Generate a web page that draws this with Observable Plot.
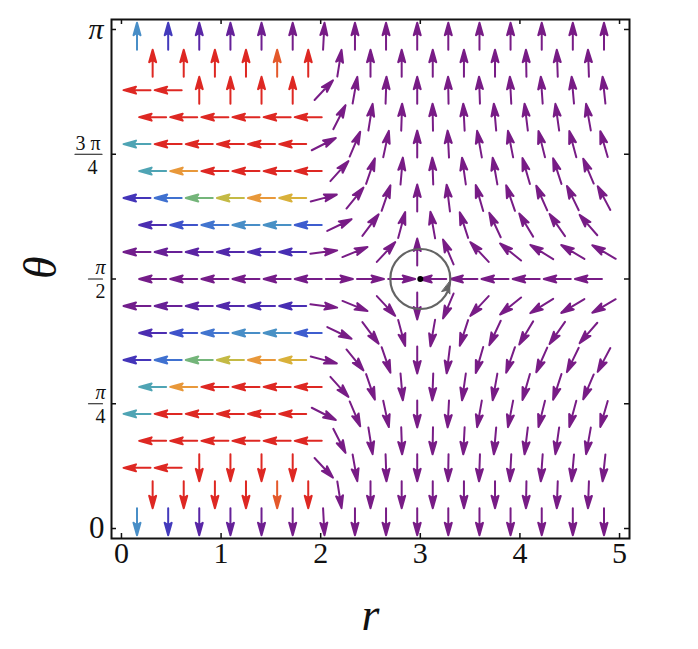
<!DOCTYPE html>
<html>
<head>
<meta charset="utf-8">
<script src="https://cdn.jsdelivr.net/npm/d3@7"></script>
<script src="https://cdn.jsdelivr.net/npm/@observablehq/plot@0.6"></script>
<style>
  html, body { margin: 0; padding: 0; background: #fff; }
  #chart { width: 698px; height: 649px; overflow: hidden; }
</style>
</head>
<body>
<div id="chart"></div>
<script>
// ---------- data ----------
// theta position of each row of arrows (top row first)
const thetaRows = [3.0992, 2.9294, 2.7596, 2.5897, 2.4199, 2.2501, 2.0803, 1.9104, 1.7406, 1.5708,
                   1.4010, 1.2312, 1.0613, 0.8915, 0.7217, 0.5519, 0.3820, 0.2122, 0.0424];
// r positions: even rows (16 arrows) and odd rows (15 arrows) are staggered
const rEven = [0.156, 0.469, 0.781, 1.094, 1.406, 1.719, 2.031, 2.344, 2.656, 2.969, 3.281, 3.594, 3.906, 4.219, 4.531, 4.844];
const rOdd  = [0.313, 0.625, 0.938, 1.250, 1.563, 1.875, 2.188, 2.500, 2.813, 3.125, 3.438, 3.750, 4.063, 4.375, 4.688];

// direction of each arrow (degrees on screen, 0 = right, 90 = up)
const angleRows = [
  [90, 90, 90, 90, 90, 90, 87, 90, 90, 90, 90, 90, 90, 90, 90, 90],
  [90, 90, 90, 90, 90, 90, 81, 90, 90, 90, 90, 90, 91, 92, 92],
  [180, 180, 90, 90, 90, 90, 47, 80, 88, 90, 91, 92, 93, 94, 95, 96],
  [180, 180, 180, 180, 180, 180, 63, 81, 88, 91, 93, 95, 97, 98, 100],
  [180, 180, 180, 180, 180, 180, 27, 67, 78, 90, 93, 100, 101, 104, 105, 106],
  [180, 180, 180, 180, 180, 180, 48, 71, 85, 92, 98, 100, 106, 108, 113],
  [180, 180, 180, 180, 180, 180, 15, 51, 71, 90, 97, 106, 109, 114, 116, 118],
  [180, 180, 180, 180, 180, 180, 26, 53, 75, 100, 108, 115, 121, 125, 131],
  [180, 180, 180, 180, 180, 180, 7, 22, 47, 90, 113, 133, 141, 148, 149, 150],
  [180, 180, 180, 180, 180, 180, 0, 0, 0, 180, 180, 180, 180, 180, 180],
  [180, 180, 180, 180, 180, 180, -7, -22, -47, -90, -113, -133, -141, -148, -149, -150],
  [180, 180, 180, 180, 180, 180, -26, -53, -75, -100, -108, -115, -121, -125, -131],
  [180, 180, 180, 180, 180, 180, -15, -51, -71, -90, -97, -106, -109, -114, -116, -118],
  [180, 180, 180, 180, 180, 180, -48, -71, -85, -92, -98, -100, -106, -108, -113],
  [180, 180, 180, 180, 180, 180, -27, -67, -78, -90, -93, -100, -101, -104, -105, -106],
  [180, 180, 180, 180, 180, 180, -63, -81, -88, -91, -93, -95, -97, -98, -100],
  [180, 180, -90, -90, -90, -90, -47, -80, -88, -90, -91, -92, -93, -94, -95, -96],
  [-90, -90, -90, -90, -90, -90, -81, -90, -90, -90, -90, -90, -91, -92, -92],
  [-90, -90, -90, -90, -90, -90, -87, -90, -90, -90, -90, -90, -90, -90, -90, -90]
];

// colour level of each arrow (0 = purple ... 1 = red)
const levelRows = [
  [0.36, 0.18, 0.10, 0.06, 0.03, 0.01, 0, 0, 0, 0, 0, 0, 0, 0, 0, 0],
  [1, 1, 1, 1, 0.9, 1, 0, 0, 0, 0, 0, 0, 0, 0, 0],
  [1, 1, 1, 1, 1, 1, 0, 0, 0, 0, 0, 0, 0, 0, 0, 0],
  [1, 1, 1, 1, 1, 1, 0, 0, 0, 0, 0, 0, 0, 0, 0],
  [0.44, 1, 1, 1, 1, 1, 0, 0, 0, 0, 0, 0, 0, 0, 0, 0],
  [0.44, 0.78, 1, 1, 1, 1, 0, 0, 0, 0, 0, 0, 0, 0, 0],
  [0.17, 0.29, 0.54, 0.64, 0.78, 0.70, 0, 0, 0, 0, 0, 0, 0, 0, 0, 0],
  [0.14, 0.23, 0.30, 0.36, 0.37, 0.25, 0, 0, 0, 0, 0, 0, 0, 0, 0],
  [0.02, 0.05, 0.09, 0.12, 0.14, 0.15, 0, 0, 0, 0, 0, 0, 0, 0, 0, 0],
  [0.01, 0.01, 0.01, 0.01, 0.01, 0.01, 0, 0, 0, 0, 0, 0, 0, 0, 0],
  [0.02, 0.05, 0.09, 0.12, 0.14, 0.15, 0, 0, 0, 0, 0, 0, 0, 0, 0, 0],
  [0.14, 0.23, 0.30, 0.36, 0.37, 0.25, 0, 0, 0, 0, 0, 0, 0, 0, 0],
  [0.17, 0.29, 0.54, 0.64, 0.78, 0.70, 0, 0, 0, 0, 0, 0, 0, 0, 0, 0],
  [0.44, 0.78, 1, 1, 1, 1, 0, 0, 0, 0, 0, 0, 0, 0, 0],
  [0.44, 1, 1, 1, 1, 1, 0, 0, 0, 0, 0, 0, 0, 0, 0, 0],
  [1, 1, 1, 1, 1, 1, 0, 0, 0, 0, 0, 0, 0, 0, 0],
  [1, 1, 1, 1, 1, 1, 0, 0, 0, 0, 0, 0, 0, 0, 0, 0],
  [1, 1, 1, 1, 0.9, 1, 0, 0, 0, 0, 0, 0, 0, 0, 0],
  [0.36, 0.18, 0.10, 0.06, 0.03, 0.01, 0, 0, 0, 0, 0, 0, 0, 0, 0, 0]
];

// colour ramp (rainbow-like)
const levelStops  = [0, 0.09, 0.16, 0.26, 0.34, 0.44, 0.54, 0.64, 0.70, 0.78, 0.90, 1];
const levelColors = ["#781c86", "#5c24a3", "#4530b6", "#3d62d2", "#4689cc", "#4fa4b4",
                     "#74b57a", "#c4ba45", "#d9b13a", "#e8983a", "#e4592b", "#de2823"];

// axes
const xTicks = [0, 1, 2, 3, 4, 5];
const yTickValues = [0, Math.PI / 4, Math.PI / 2, 3 * Math.PI / 4, Math.PI];
const yZeroTick = [{value: 0, label: "0"}];
const yPiTick = [{value: Math.PI, label: "π"}];
const yNarrowFrac = [{value: Math.PI / 4, num: "π", den: "4"}, {value: Math.PI / 2, num: "π", den: "2"}];
const yWideFrac = [{value: 3 * Math.PI / 4, num: "3 π", den: "4"}];
const xLabel = "r";
const yLabel = "θ";

// fixed point with its encircling orbit
const fixedPoint = [{r: 3, theta: 1.5708}];

// ---------- build table ----------
const arrows = [];
thetaRows.forEach((theta, j) => {
  const rs = j % 2 === 0 ? rEven : rOdd;
  rs.forEach((r, k) => arrows.push({r, theta, angle: angleRows[j][k], level: levelRows[j][k]}));
});

// ---------- shapes ----------
const arrowShape = {
  draw(ctx, l) {
    const h = 12.5, w = 3.5, notch = 2.6;
    ctx.moveTo(0, 0);
    ctx.lineTo(0, -l + h - notch);
    ctx.moveTo(0, -l);
    ctx.lineTo(w, -l + h);
    ctx.lineTo(0, -l + h - notch);
    ctx.lineTo(-w, -l + h);
    ctx.closePath();
  }
};
const barShape = {
  draw(ctx, l) { ctx.moveTo(-l / 2, 0); ctx.lineTo(l / 2, 0); }
};
const orbitHead = {
  draw(ctx) {
    const tx = 29.4, ty = 2.5, bx = 25.6, by = 13.8;
    const len = Math.hypot(tx - bx, ty - by);
    const dx = (tx - bx) / len, dy = (ty - by) / len;
    const nx = -dy, ny = dx, w = 4.2, notch = 2.5;
    ctx.moveTo(tx, ty);
    ctx.lineTo(bx + nx * w, by + ny * w);
    ctx.lineTo(bx + dx * notch, by + dy * notch);
    ctx.lineTo(bx - nx * w, by - ny * w);
    ctx.closePath();
  }
};

const serif = "'Liberation Serif', 'Times New Roman', 'DejaVu Serif', serif";
const plotW = 698 - 111 - 69, plotH = 649 - 19 - 111;

const chart = Plot.plot({
  width: 698,
  height: 649,
  marginLeft: 111, marginRight: 69, marginTop: 19, marginBottom: 111,
  x: {domain: [-0.1, 5.1], axis: null},
  y: {domain: [-0.02 * Math.PI, 1.02 * Math.PI], axis: null},
  color: {type: "linear", domain: levelStops, range: levelColors, interpolate: "rgb"},
  style: {fontFamily: serif, background: "white", overflow: "visible"},
  marks: [
    Plot.vector(arrows, {
      x: "r", y: "theta", rotate: d => 90 - d.angle, length: 27, anchor: "middle",
      shape: arrowShape, stroke: "level", fill: "level", strokeWidth: 2, strokeLinejoin: "round"
    }),
    Plot.frame({stroke: "#111", strokeWidth: 2}),
    Plot.ruleX(xTicks, {x: d => d, insetTop: plotH - 5, stroke: "#111", strokeWidth: 1.5}),
    Plot.ruleX(xTicks, {x: d => d, insetBottom: plotH - 5, stroke: "#111", strokeWidth: 1.5}),
    Plot.ruleY(yTickValues, {y: d => d, insetRight: plotW - 5, stroke: "#111", strokeWidth: 1.5}),
    Plot.ruleY(yTickValues, {y: d => d, insetLeft: plotW - 5, stroke: "#111", strokeWidth: 1.5}),
    // x tick labels
    Plot.text(xTicks, {x: d => d, text: d => String(d), frameAnchor: "bottom", dy: 24, fontSize: 30, fill: "#111"}),
    // y tick labels
    Plot.text(yZeroTick, {y: "value", text: "label", frameAnchor: "left", dx: -7, textAnchor: "end", fontSize: 31, fill: "#111"}),
    Plot.text(yPiTick, {y: "value", text: "label", frameAnchor: "left", dx: -8, textAnchor: "end", fontSize: 30, fontStyle: "italic", fill: "#111"}),
    Plot.text(yNarrowFrac, {y: "value", text: "num", frameAnchor: "left", dx: -16, dy: -11, fontSize: 20, fontStyle: "italic", fill: "#111"}),
    Plot.text(yNarrowFrac, {y: "value", text: "den", frameAnchor: "left", dx: -16, dy: 13, fontSize: 20, fill: "#111"}),
    Plot.vector(yNarrowFrac, {y: "value", frameAnchor: "left", dx: -16, rotate: 0, length: 14, anchor: "start", shape: barShape, stroke: "#111", strokeWidth: 1.2}),
    Plot.text(yWideFrac, {y: "value", text: "num", frameAnchor: "left", dx: -11, dy: -11, textAnchor: "end", fontSize: 20, fill: "#111"}),
    Plot.text(yWideFrac, {y: "value", text: "den", frameAnchor: "left", dx: -24, dy: 13, fontSize: 20, fill: "#111"}),
    Plot.vector(yWideFrac, {y: "value", frameAnchor: "left", dx: -23, rotate: 0, length: 27, anchor: "start", shape: barShape, stroke: "#111", strokeWidth: 1.2}),
    // axis titles
    Plot.text([xLabel], {text: d => d, frameAnchor: "bottom", dy: 91, fontSize: 46, fontStyle: "italic", fill: "#111"}),
    Plot.text([yLabel], {text: d => d, frameAnchor: "left", dx: -70, rotate: -90, fontSize: 46, fontStyle: "italic", fill: "#111"}),
    // fixed point and orbit
    Plot.dot(fixedPoint, {x: "r", y: "theta", r: 30, stroke: "#646464", strokeWidth: 2.2, fill: "none"}),
    Plot.vector(fixedPoint, {x: "r", y: "theta", length: 1, rotate: 0, anchor: "start", shape: orbitHead, fill: "#646464", stroke: "#646464", strokeWidth: 1}),
    Plot.dot(fixedPoint, {x: "r", y: "theta", r: 3, fill: "black", stroke: "none"})
  ]
});
document.getElementById("chart").appendChild(chart);
</script>
</body>
</html>
